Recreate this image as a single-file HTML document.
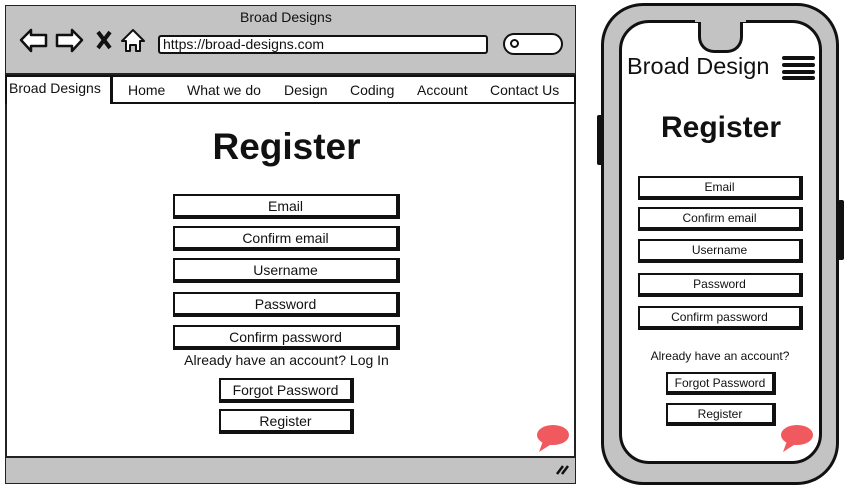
<!DOCTYPE html>
<html><head><style>
*{box-sizing:border-box;margin:0;padding:0}
body{width:851px;height:490px;background:#fff;position:relative;overflow:hidden;font-family:"Liberation Sans",sans-serif;color:#111}
.a{position:absolute}
.btn{position:absolute;background:#fff;border:2px solid #111;border-right-width:4px;border-bottom-width:4px;text-align:center;font-size:14px;line-height:20px}
.pb{font-size:12px;line-height:18px}
.t{position:absolute;white-space:nowrap}
</style></head><body>
<!-- Browser -->
<div class="a" style="left:5px;top:5px;width:571px;height:479px;border:2px solid #222;background:#fff"></div>
<div class="a" style="left:6px;top:6px;width:569px;height:69px;background:#c3c3c3;border-bottom:2px solid #222"></div>
<div class="t" style="left:240px;top:9px;font-size:14px">Broad Designs</div>
<svg class="a" style="left:18px;top:27px" width="130" height="28">
<path d="M3 13 L13 3 L13 8 L28 8 L28 19 L13 19 L13 24 Z" fill="#fff" stroke="#111" stroke-width="2.5" stroke-linejoin="round"/>
<path d="M64 13 L54 3 L54 8 L39 8 L39 19 L54 19 L54 24 Z" fill="#fff" stroke="#111" stroke-width="2.5" stroke-linejoin="round"/>
<path d="M80 5 L92 21 M92 5 L80 21" stroke="#111" stroke-width="4"/>
<path d="M104 14 L115 3 L126 14 L122 14 L122 24 L118 24 L118 18 L112 18 L112 24 L108 24 L108 14 Z" fill="#fff" stroke="#111" stroke-width="2" stroke-linejoin="round"/>
</svg>
<div class="a" style="left:158px;top:35px;width:330px;height:19px;border:2px solid #111;border-radius:3px;background:#fff"></div>
<div class="t" style="left:163px;top:36px;font-size:14px">https://broad-designs.com</div>
<div class="a" style="left:503px;top:33px;width:60px;height:22px;border:2px solid #111;border-radius:11px;background:#fff"></div>
<div class="a" style="left:510px;top:39px;width:9px;height:9px;border:2px solid #111;border-radius:50%"></div>
<div class="a" style="left:5px;top:75px;width:107px;height:29px;border:2px solid #111;border-bottom:none;background:#fff"></div>
<div class="t" style="left:9px;top:80px;font-size:14px">Broad Designs</div>
<div class="a" style="left:111px;top:75px;width:465px;height:29px;border:2px solid #111;background:#fff"></div>
<div class="t" style="left:128px;top:82px;font-size:14px">Home</div>
<div class="t" style="left:187px;top:82px;font-size:14px">What we do</div>
<div class="t" style="left:284px;top:82px;font-size:14px">Design</div>
<div class="t" style="left:350px;top:82px;font-size:14px">Coding</div>
<div class="t" style="left:417px;top:82px;font-size:14px">Account</div>
<div class="t" style="left:490px;top:82px;font-size:14px">Contact Us</div>
<div class="t" style="left:0;width:573px;text-align:center;top:126px;font-size:37px;font-weight:bold">Register</div>
<div class="btn" style="left:173px;top:194px;width:227px;height:25px">Email</div>
<div class="btn" style="left:173px;top:226px;width:227px;height:25px">Confirm email</div>
<div class="btn" style="left:173px;top:258px;width:227px;height:25px">Username</div>
<div class="btn" style="left:173px;top:292px;width:227px;height:25px">Password</div>
<div class="btn" style="left:173px;top:325px;width:227px;height:25px">Confirm password</div>
<div class="t" style="left:0;width:573px;text-align:center;top:352px;font-size:14px">Already have an account? Log In</div>
<div class="btn" style="left:219px;top:378px;width:135px;height:25px">Forgot Password</div>
<div class="btn" style="left:219px;top:409px;width:135px;height:25px">Register</div>
<svg class="a" style="left:535px;top:423px" width="36" height="30"><ellipse cx="18" cy="12" rx="16" ry="10" fill="#f05a5f"/><path d="M8 18 L4 29 L18 20 Z" fill="#f05a5f"/></svg>
<div class="a" style="left:6px;top:456px;width:569px;height:27px;background:#c3c3c3;border-top:2px solid #222"></div>
<svg class="a" style="left:554px;top:462px" width="16" height="14"><path d="M3 12 L9 4 M8 12 L14 4" stroke="#111" stroke-width="2.5"/></svg>
<!-- Phone -->
<div class="a" style="left:597px;top:115px;width:6px;height:50px;background:#111;border-radius:2px"></div>
<div class="a" style="left:838px;top:200px;width:6px;height:60px;background:#111;border-radius:2px"></div>
<div class="a" style="left:601px;top:3px;width:238px;height:482px;border:3px solid #111;border-radius:42px;background:#c3c3c3"></div>
<div class="a" style="left:619px;top:20px;width:203px;height:444px;border:3px solid #111;border-radius:30px;background:#fff"></div>
<div class="a" style="left:698px;top:17px;width:45px;height:36px;background:#c3c3c3;border:3px solid #111;border-top:none;border-radius:0 0 16px 16px"></div>
<div class="a" style="left:695px;top:17px;width:51px;height:5px;background:#c3c3c3"></div>
<div class="t" style="left:627px;top:53px;font-size:23.5px">Broad Design</div>
<div class="a" style="left:782px;top:56px;width:33px;height:4px;background:#111;border-radius:2px"></div>
<div class="a" style="left:782px;top:63px;width:33px;height:4px;background:#111;border-radius:2px"></div>
<div class="a" style="left:782px;top:70px;width:33px;height:4px;background:#111;border-radius:2px"></div>
<div class="a" style="left:782px;top:76px;width:33px;height:4px;background:#111;border-radius:2px"></div>
<div class="t" style="left:620px;width:202px;text-align:center;top:111px;font-size:30px;font-weight:bold">Register</div>
<div class="btn pb" style="left:638px;top:176px;width:165px;height:24px">Email</div>
<div class="btn pb" style="left:638px;top:207px;width:165px;height:24px">Confirm email</div>
<div class="btn pb" style="left:638px;top:239px;width:165px;height:24px">Username</div>
<div class="btn pb" style="left:638px;top:273px;width:165px;height:24px">Password</div>
<div class="btn pb" style="left:638px;top:306px;width:165px;height:24px">Confirm password</div>
<div class="t" style="left:620px;width:200px;text-align:center;top:349px;font-size:12px">Already have an account?</div>
<div class="btn pb" style="left:666px;top:372px;width:110px;height:23px">Forgot Password</div>
<div class="btn pb" style="left:666px;top:403px;width:110px;height:23px">Register</div>
<svg class="a" style="left:779px;top:423px" width="36" height="30"><ellipse cx="18" cy="12" rx="16" ry="10" fill="#f05a5f"/><path d="M8 18 L4 29 L18 20 Z" fill="#f05a5f"/></svg>
</body></html>
